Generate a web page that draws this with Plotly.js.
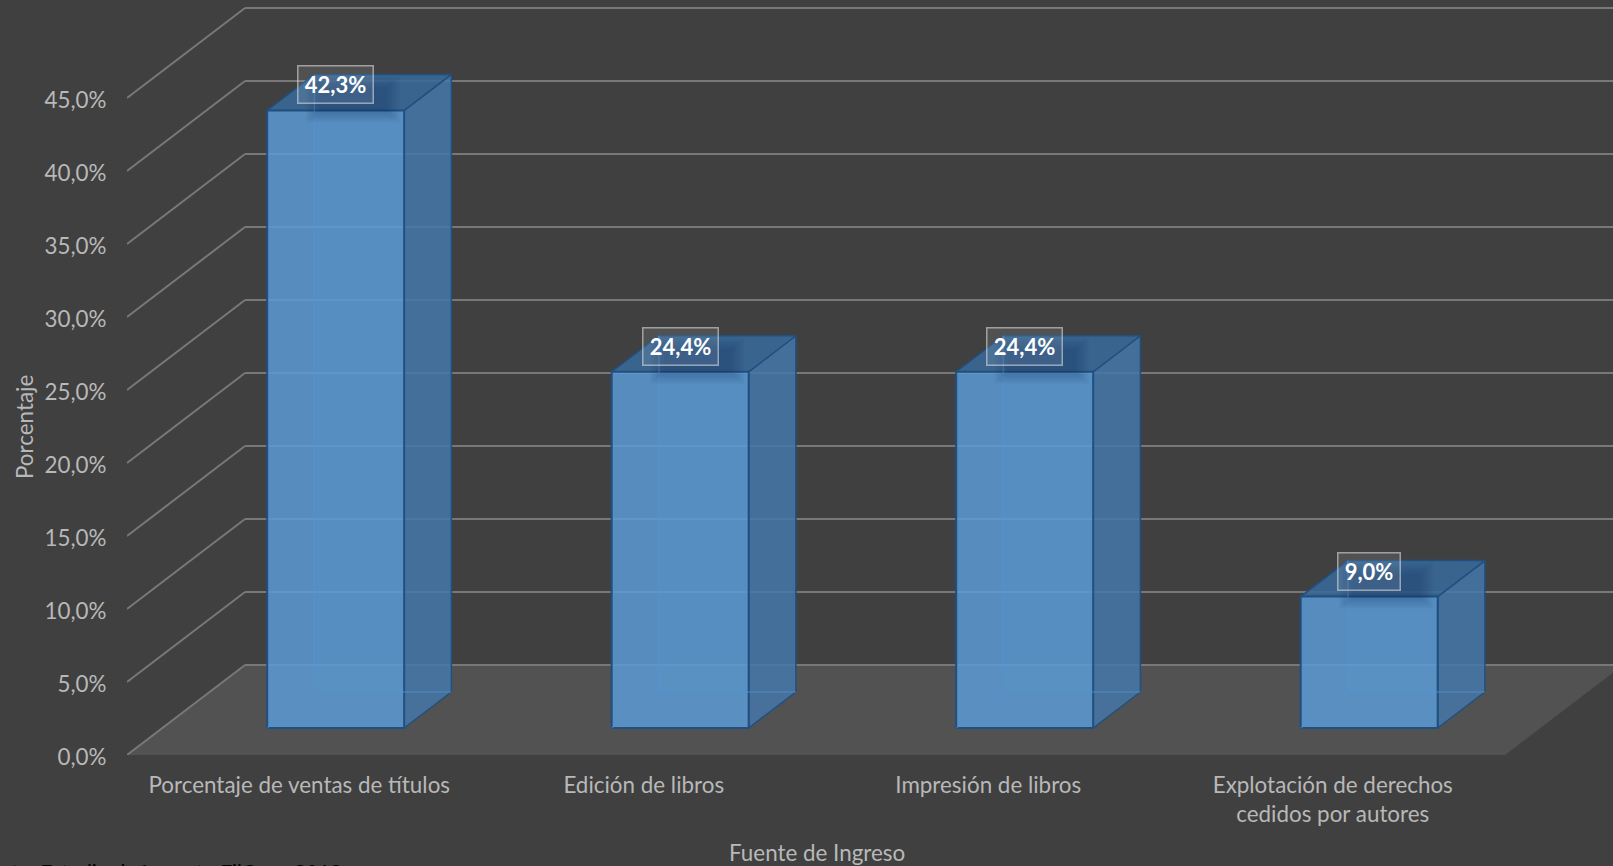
<!DOCTYPE html>
<html><head><meta charset="utf-8">
<script src="https://cdn.plot.ly/plotly-3.0.1.min.js"></script>
<style>html,body{margin:0;padding:0;background:#404040;overflow:hidden}#c{width:1613px;height:866px}</style>
</head><body><div id="c"></div>
<script>
const categories = ["Porcentaje de ventas de títulos","Edición de libros","Impresión de libros","Explotación de derechos<br>cedidos por autores"];
const values = [42.3,24.4,24.4,9.0];
const valueLabels = ["42,3%","24,4%","24,4%","9,0%"];
const yTicks = [0,5,10,15,20,25,30,35,40,45];
const yTickLabels = ["0,0%","5,0%","10,0%","15,0%","20,0%","25,0%","30,0%","35,0%","40,0%","45,0%"];
const xTitle = "Fuente de Ingreso";
const yTitle = "Porcentaje";
const sourceNote = "Fuente: Estudio de Impacto FilCom, 2018";

const W=1613,H=866,L=127,B=755;
const pxX=344.5, pxY=14.6;                 // px per unit of each axis
const xMin=-0.5, xMax=xMin+(W-L)/pxX;
const yMin=0, yMax=B/pxY;
const depX=118/pxX, depY=90/pxY;           // full floor depth in axis units
const barW=137/pxX;
const nearD=0.3, farD=0.7;                 // bar depth range as a share of the floor depth
const floorEnd=3.5;
const paperX=px=>(px-L)/(W-L), paperY=py=>(B-py)/B;

function proj(x,v,d){return [x+depX*d, v+depY*d];}
function poly(pts,fill,line,lw,name){
  const p=pts.slice(); if(fill) p.push(pts[0]);
  return {type:'scatter',mode:'lines',x:p.map(a=>a[0]),y:p.map(a=>a[1]),
    fill:fill?'toself':'none',fillcolor:fill||undefined,
    line:{color:line||'rgba(0,0,0,0)',width:lw||0},hoverinfo:'skip',showlegend:false,name:name||''};
}
const traces=[];
traces.push(poly([proj(xMin,0,0),proj(floorEnd,0,0),proj(floorEnd,0,1),proj(xMin,0,1)],'#525252',null,0,'floor'));
const gridC='#787878';
yTicks.forEach(t=>{
  traces.push(poly([proj(xMin,t,0),proj(xMin,t,1)],null,gridC,2,'side'));
  traces.push(poly([proj(xMin,t,1),proj(floorEnd+1,t,1)],null,gridC,2,'grid'));
});
const fFront='rgba(91,155,213,0.85)', fSide='rgba(69,119,168,0.85)', fTop='rgba(57,105,151,0.88)';
const edge='#205080', inner='rgba(84,150,214,0.5)', fBack='rgba(60,140,220,0.10)';
values.forEach((v,i)=>{
  const x0=i-barW/2+0.003, x1=x0+barW;
  const A=proj;
  traces.push(poly([A(x0,0,farD),A(x1,0,farD),A(x1,v,farD),A(x0,v,farD)],fBack,null,0));
  traces.push(poly([A(x1,0,nearD),A(x1,0,farD),A(x1,v,farD),A(x1,v,nearD)],fSide,edge,1.5));
  traces.push(poly([A(x0,v,nearD),A(x1,v,nearD),A(x1,v,farD),A(x0,v,farD)],fTop,edge,1.5));
  traces.push(poly([A(x0,0,nearD),A(x1,0,nearD),A(x1,v,nearD),A(x0,v,nearD)],fFront,edge,2));
  traces.push(poly([A(x0,0,nearD),A(x0,0,farD),A(x1,0,farD)],null,inner,1.5));
  traces.push(poly([A(x0,0,farD),A(x0,v,farD)],null,inner,1.5));
});

const font='Lato, Carlito, sans-serif', txt='#b8b8b8', fs=22.4;
const shapes=[], annotations=[];
values.forEach((v,i)=>{
  const cx=i+0.003+depX*nearD, top=v+depY*nearD;
  // soft shadow under the value label, built from stacked translucent rectangles
  for(let k=0;k<8;k++){
    const hw=(47-k*2)/pxX, hh=(23-k*1.8)/pxY, dx=17/pxX, dy=11/pxY;
    shapes.push({type:'rect',layer:'above',xref:'x',yref:'y',
      x0:cx+dx-hw,x1:cx+dx+hw,y0:top+dy-hh,y1:top+dy+hh,
      fillcolor:'rgba(24,52,84,0.045)',line:{width:0}});
  }
  annotations.push({xref:'x',yref:'y',x:cx,y:top+25.5/pxY,text:'<b>'+valueLabels[i]+'</b>',showarrow:false,
    font:{family:font,size:22,color:'#ffffff'},bgcolor:'rgba(255,255,255,0.09)',
    bordercolor:'rgba(217,217,217,0.62)',borderwidth:1.5,borderpad:3,width:valueLabels[i].length*13+3,height:30,align:'center',valign:'middle'});
});
annotations.push({xref:'paper',yref:'paper',x:paperX(817),y:paperY(852),xanchor:'center',yanchor:'middle',
  text:xTitle,showarrow:false,font:{family:font,size:fs,color:txt}});
annotations.push({xref:'paper',yref:'paper',x:paperX(24),y:paperY(427),xanchor:'center',yanchor:'middle',textangle:-90,
  text:yTitle,showarrow:false,font:{family:font,size:fs,color:txt}});
annotations.push({xref:'paper',yref:'paper',x:paperX(344),y:paperY(858),xanchor:'right',yanchor:'top',
  text:sourceNote,showarrow:false,font:{family:font,size:20.7,color:'#000000'}});

const layout={
  width:W,height:H,showlegend:false,autosize:false,
  paper_bgcolor:'#404040',plot_bgcolor:'rgba(0,0,0,0)',
  margin:{l:L,r:0,t:0,b:H-B,pad:0},
  font:{family:font,size:fs,color:txt},
  xaxis:{range:[xMin,xMax],tickmode:'array',tickvals:categories.map((c,i)=>i),ticktext:categories,
    showgrid:false,zeroline:false,showline:false,ticks:'outside',ticklen:10,tickcolor:'rgba(0,0,0,0)',tickangle:0,
    tickfont:{family:font,size:fs,color:txt},automargin:false},
  yaxis:{range:[yMin,yMax],tickmode:'array',tickvals:yTicks,ticktext:yTickLabels,ticklabelshift:2,
    showgrid:false,zeroline:false,showline:false,ticks:'outside',ticklen:15,tickcolor:'rgba(0,0,0,0)',
    tickfont:{family:font,size:fs,color:txt},automargin:false},
  shapes,annotations
};
Plotly.newPlot('c',traces,layout,{displayModeBar:false,staticPlot:true});
</script></body></html>
